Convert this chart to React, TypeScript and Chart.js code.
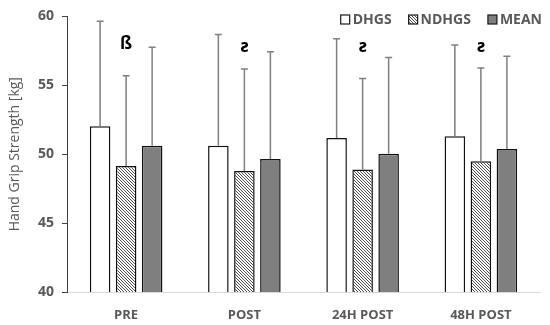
import React, { useEffect, useRef } from "react";
import { Chart, registerables } from "chart.js";

Chart.register(...registerables);

const categories = ["PRE", "POST", "24H POST", "48H POST"];
const seriesNames = ["DHGS", "NDHGS", "MEAN"];
const dhgs = [52.03, 50.62, 51.18, 51.3];
const dhgsSD = [7.61, 8.07, 7.19, 6.63];
const ndhgs = [49.14, 48.78, 48.89, 49.48];
const ndhgsSD = [6.56, 7.41, 6.61, 6.77];
const meanVals = [50.62, 49.65, 50.04, 50.38];
const meanSD = [7.15, 7.78, 6.97, 6.73];
const markLabels = ["ß", "ƨ", "ƨ", "ƨ"];
const markY = [58.0, 57.8, 57.8, 57.8];
const yTicks = [40, 45, 50, 55, 60];

const FONT = "'Open Sans', 'Noto Sans', sans-serif";
const GRAY_TEXT = "#595959";

function makeHatch(): CanvasPattern | string {
  const c = document.createElement("canvas");
  c.width = 3;
  c.height = 3;
  const g = c.getContext("2d");
  if (!g) return "#aaa";
  g.fillStyle = "#ffffff";
  g.fillRect(0, 0, 3, 3);
  g.fillStyle = "#4a4a4a";
  g.fillRect(0, 0, 1, 1);
  g.fillRect(1, 1, 1, 1);
  g.fillRect(2, 2, 1, 1);
  const p = g.createPattern(c, "repeat");
  return p || "#aaa";
}

export default function App() {
  const ref = useRef<HTMLCanvasElement | null>(null);

  useEffect(() => {
    document.body.style.margin = "0";
    const canvas = ref.current;
    if (!canvas) return;
    const hatch = makeHatch();
    const sds = [dhgsSD, ndhgsSD, meanSD];
    const fills: any[] = ["#ffffff", hatch, "#7f7f7f"];

    const errorPlugin = {
      id: "errs",
      afterDatasetsDraw(chart: any) {
        const ctx = chart.ctx;
        const y = chart.scales.y;
        ctx.save();
        ctx.strokeStyle = "#7f7f7f";
        ctx.lineWidth = 1.5;
        chart.data.datasets.forEach((ds: any, di: number) => {
          const meta = chart.getDatasetMeta(di);
          meta.data.forEach((el: any, i: number) => {
            const top = y.getPixelForValue(ds.data[i] + sds[di][i]);
            const x = el.x;
            ctx.beginPath();
            ctx.moveTo(x, el.y);
            ctx.lineTo(x, top);
            ctx.moveTo(x - 3.5, top);
            ctx.lineTo(x + 3.5, top);
            ctx.stroke();
          });
        });
        // significance marks above NDHGS bars
        const meta1 = chart.getDatasetMeta(1);
        ctx.fillStyle = "#000";
        ctx.font = `bold 17px ${FONT}`;
        ctx.textAlign = "center";
        ctx.textBaseline = "middle";
        meta1.data.forEach((el: any, i: number) => {
          ctx.fillText(markLabels[i], el.x, y.getPixelForValue(markY[i]));
        });
        // legend
        ctx.font = `bold 14px ${FONT}`;
        ctx.textBaseline = "middle";
        ctx.textAlign = "left";
        const box = 9;
        const gapBoxText = 3;
        const gapItems = 17;
        const widths = seriesNames.map((n) => ctx.measureText(n).width);
        let total = 0;
        widths.forEach((w, i) => {
          total += box + gapBoxText + w + (i < widths.length - 1 ? gapItems : 0);
        });
        let x = chart.chartArea.right + 2 - total;
        const cy = 19.5;
        seriesNames.forEach((n, i) => {
          ctx.fillStyle = fills[i];
          ctx.fillRect(x, cy - box / 2, box, box);
          ctx.strokeStyle = "#1a1a1a";
          ctx.lineWidth = 1.2;
          ctx.strokeRect(x, cy - box / 2, box, box);
          ctx.fillStyle = GRAY_TEXT;
          ctx.fillText(n, x + box + gapBoxText, cy + 0.5);
          x += box + gapBoxText + widths[i] + gapItems;
        });
        ctx.restore();
      },
    };

    const chart = new Chart(canvas, {
      type: "bar",
      data: {
        labels: categories,
        datasets: [
          { label: seriesNames[0], data: dhgs, backgroundColor: fills[0], borderColor: "#111", borderWidth: 1.5 },
          { label: seriesNames[1], data: ndhgs, backgroundColor: fills[1], borderColor: "#111", borderWidth: 1.5 },
          { label: seriesNames[2], data: meanVals, backgroundColor: fills[2], borderColor: "#111", borderWidth: 1.5 },
        ],
      },
      options: {
        animation: false,
        responsive: false,
        devicePixelRatio: 1,
        layout: { padding: { top: 16, right: 10, left: 0, bottom: 0 } },
        datasets: { bar: { barPercentage: 0.79, categoryPercentage: 0.66 } },
        plugins: { legend: { display: false }, tooltip: { enabled: false } },
        scales: {
          x: {
            grid: { display: false },
            border: { display: true, color: "#d9d9d9", width: 1 },
            ticks: { color: GRAY_TEXT, font: { family: FONT, size: 13, weight: "bold" }, padding: 7 },
            afterFit: (s: any) => {
              s.height = 33;
            },
          },
          y: {
            min: 40,
            max: 60,
            afterBuildTicks: (s: any) => {
              s.ticks = yTicks.map((v) => ({ value: v }));
            },
            grid: { display: true, drawOnChartArea: false, drawTicks: true, tickLength: 5, color: "#404040" },
            border: { display: true, color: "#404040", width: 1 },
            ticks: { color: GRAY_TEXT, font: { family: FONT, size: 14, weight: "bold" }, padding: 8 },
            title: {
              display: true,
              text: "Hand Grip Strength [kg]",
              color: GRAY_TEXT,
              font: { family: FONT, size: 14 },
              padding: { top: 7, bottom: 0 },
            },
            afterFit: (s: any) => {
              s.width = 67;
            },
          },
        },
      },
      plugins: [errorPlugin],
    } as any);
    return () => chart.destroy();
  }, []);

  return (
    <div style={{ width: 550, height: 325, position: "relative" }}>
      <canvas ref={ref} width={550} height={325} />
    </div>
  );
}
